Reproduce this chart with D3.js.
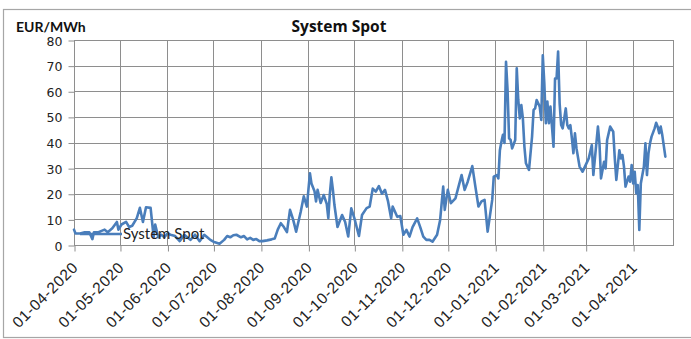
<!DOCTYPE html>
<html>
<head>
<meta charset="utf-8">
<script src="https://cdn.jsdelivr.net/npm/d3@7"></script>
<style>
  html, body { margin: 0; padding: 0; background: #fff; }
  svg { display: block; }
</style>
</head>
<body>
<svg id="chart" width="691" height="339"></svg>
<script>
// System spot price, EUR/MWh, by day offset from 1 April 2020
const seriesName = "System Spot";
const startDate = "2020-04-01";
const endDate = "2021-04-27";
const dayOffsets = [
  0, 1, 4, 7, 10, 12, 13, 16, 18, 20, 22, 25, 28, 29, 31, 34, 36, 38, 41, 43, 45, 47, 50, 52, 53, 55, 57, 59, 61, 63, 66, 69, 72, 76, 79, 82, 85, 87, 89, 91,
  95, 98, 100, 102, 104, 106, 109, 111, 113, 115, 117, 119, 121, 123, 126, 129, 131, 133, 135, 137, 139, 141, 143, 145, 148, 150, 152, 154,
  155, 157, 158, 159, 161, 163, 165, 166, 167, 168, 169, 170, 172, 175, 177, 179, 181, 183, 186, 188,
  191, 193, 195, 197, 199, 201, 203, 205, 207, 208, 211, 213, 215,
  217, 219, 221, 224, 226, 228, 230, 232, 234, 237, 239, 241, 242, 244,
  246, 249, 251, 253, 255, 257, 260, 262, 264, 266, 268, 270, 273, 274, 276,
  277, 278, 279, 280, 281, 282, 283, 284, 285, 286, 288, 289, 290, 291, 292, 293, 294, 295, 297, 299, 300, 301, 302, 304, 305, 306,
  307, 308, 309, 310, 311, 313, 314, 315, 316, 317, 318, 319, 321, 322, 323, 324, 325, 326, 327, 328, 330, 332, 333,
  336, 338, 339, 342, 343, 344, 346, 347, 348, 350, 352, 353, 354, 356, 357, 358, 359, 360, 362, 363, 364, 365,
  366, 367, 368, 369, 370, 372, 373, 374, 375, 376, 377, 379, 380, 381, 382, 383, 384, 386
];
const spotPrice = [
  6, 4.5, 4.5, 5, 5, 2.3, 5, 5, 5.5, 6, 5, 6.5, 9, 6, 8, 9, 7, 7.5, 10.5, 14.5, 9, 14.7, 14.5, 3, 8, 3, 4, 3, 4.5, 4, 3.5, 1.5, 4, 2, 4, 1.5, 4, 3, 2, 1.3,
  0.5, 2, 3.5, 3, 3.8, 4, 3, 3.5, 2.2, 2.8, 2, 2.3, 1.5, 1.5, 1.8, 2.2, 2.5, 6, 8.5, 7, 5, 13.7, 10, 5.2, 13, 19, 15, 28,
  24, 21, 17, 21.5, 16.4, 19.5, 16, 10.5, 20, 26.4, 21.5, 15.6, 7, 11.7, 9, 3.3, 14.3, 10.5, 3.5, 11.7,
  14.4, 15, 22, 20.8, 23, 20, 21.5, 17, 10.4, 15, 11, 11.3, 4,
  5.9, 3.3, 7, 10.4, 7, 3.3, 2, 2, 1.3, 4, 9.8, 22.8, 13.7, 21.5,
  16.3, 18.2, 22.8, 27.3, 21.5, 24.7, 30.8, 22.8, 15, 17, 17.6, 5.2, 17.6, 26.7, 27.3,
  26, 37, 40.3, 43, 39.8, 71.5, 60.5, 41.6, 41, 37.7, 41, 69, 56.6, 49.4, 54.6, 49.4, 38.4, 31.9, 29.3, 42.3, 52.7, 53.3, 56.6, 54, 48.8, 74,
  63.1, 47.5, 56, 47.5, 54, 38.4, 65, 65, 75.5, 55.3, 46.8, 45.5, 53.3, 46.8, 45.5, 46.8, 41.6, 35.8, 43.6, 37.7, 30.6, 28.6, 29.9,
  33.8, 39, 27.3, 46.2, 39.7, 26, 32.5, 29.9, 41, 46.2, 44.2, 33.8, 25.4, 37, 33.8, 35.1, 30.6, 22.8, 26.7, 24.7, 31.2, 24,
  28.6, 20.2, 23.4, 5.9, 24, 30.6, 39.7, 27.3, 35.8, 39.7, 42.3, 45.5, 47.7, 46.2, 43.6, 46.2, 42.9, 34.5
];
const yTicks = [0, 10, 20, 30, 40, 50, 60, 70, 80];
const monthTicks = [
  "2020-04-01", "2020-05-01", "2020-06-01", "2020-07-01", "2020-08-01", "2020-09-01", "2020-10-01",
  "2020-11-01", "2020-12-01", "2021-01-01", "2021-02-01", "2021-03-01", "2021-04-01"
];

const parse = d3.utcParse("%Y-%m-%d");
const start = parse(startDate);
const data = dayOffsets.map((d, i) => ({ date: d3.utcDay.offset(start, d), value: spotPrice[i] }));

const svg = d3.select("#chart");
const plot = { left: 74, right: 673, top: 40, bottom: 245 };
const gridColor = "#8e8e8e";
const lineColor = "#4a7ebb";

// outer frame
svg.append("rect")
  .attr("x", 3.5).attr("y", 9.5).attr("width", 720).attr("height", 328)
  .attr("fill", "#fff").attr("stroke", "#a6a6a6").attr("stroke-width", 1.2);

const x = d3.scaleUtc().domain([start, parse(endDate)]).range([plot.left, plot.right]);
const y = d3.scaleLinear().domain([0, 80]).range([plot.bottom, plot.top]);

// gridlines
svg.append("g")
  .selectAll("line.h").data(yTicks).join("line")
  .attr("x1", plot.left).attr("x2", plot.right)
  .attr("y1", d => Math.round(y(d)) + 0.5).attr("y2", d => Math.round(y(d)) + 0.5)
  .attr("stroke", gridColor).attr("stroke-width", 1);
svg.append("g")
  .selectAll("line.v").data(monthTicks.map(parse)).join("line")
  .attr("x1", d => Math.round(x(d)) + 0.5).attr("x2", d => Math.round(x(d)) + 0.5)
  .attr("y1", plot.top).attr("y2", plot.bottom)
  .attr("stroke", gridColor).attr("stroke-width", 1);
svg.append("rect")
  .attr("x", plot.left + 0.5).attr("y", plot.top + 0.5)
  .attr("width", plot.right - plot.left).attr("height", plot.bottom - plot.top)
  .attr("fill", "none").attr("stroke", gridColor).attr("stroke-width", 1);

// y axis
const yAxis = svg.append("g")
  .attr("transform", `translate(${plot.left + 0.5},0.5)`)
  .call(d3.axisLeft(y).tickValues(yTicks).tickSize(6).tickPadding(6).tickSizeOuter(0));
yAxis.select(".domain").remove();
yAxis.selectAll("line").attr("stroke", gridColor);
yAxis.selectAll("text")
  .attr("font-family", "DejaVu Sans").attr("font-size", 12.5).attr("fill", "#222")
  .attr("dy", "0.36em");

// x axis
const xAxis = svg.append("g")
  .attr("transform", `translate(0.5,${plot.bottom + 0.5})`)
  .call(d3.axisBottom(x).tickValues(monthTicks.map(parse)).tickFormat(d3.utcFormat("%d-%m-%Y")).tickSize(6).tickSizeOuter(0));
xAxis.select(".domain").remove();
xAxis.selectAll("line").attr("stroke", gridColor);
xAxis.selectAll("text")
  .attr("font-family", "Liberation Sans").attr("font-size", 15.5).attr("letter-spacing", 0.6).attr("fill", "#222")
  .attr("x", 0).attr("y", 0).attr("dy", 0)
  .attr("text-anchor", "end")
  .attr("transform", "translate(4,23) rotate(-45)");

// price line
svg.append("path")
  .datum(data)
  .attr("fill", "none").attr("stroke", lineColor).attr("stroke-width", 2.6)
  .attr("stroke-linejoin", "round").attr("stroke-linecap", "round")
  .attr("d", d3.line().x(d => x(d.date)).y(d => y(d.value)));

// legend
svg.append("line")
  .attr("x1", 80).attr("x2", 122).attr("y1", 234).attr("y2", 234)
  .attr("stroke", lineColor).attr("stroke-width", 2.6);
svg.append("text")
  .attr("x", 123).attr("y", 238.5)
  .attr("font-family", "Lato").attr("font-size", 15).attr("fill", "#222")
  .text(seriesName);

// titles
svg.append("text")
  .attr("x", 339).attr("y", 31.5).attr("text-anchor", "middle")
  .attr("font-family", "Open Sans").attr("font-weight", "bold").attr("font-size", 15.5).attr("fill", "#111")
  .text(seriesName);
svg.append("text")
  .attr("x", 16).attr("y", 31.5)
  .attr("font-family", "Lato").attr("font-weight", "bold").attr("font-size", 14).attr("fill", "#111")
  .text("EUR/MWh");
</script>
</body>
</html>
